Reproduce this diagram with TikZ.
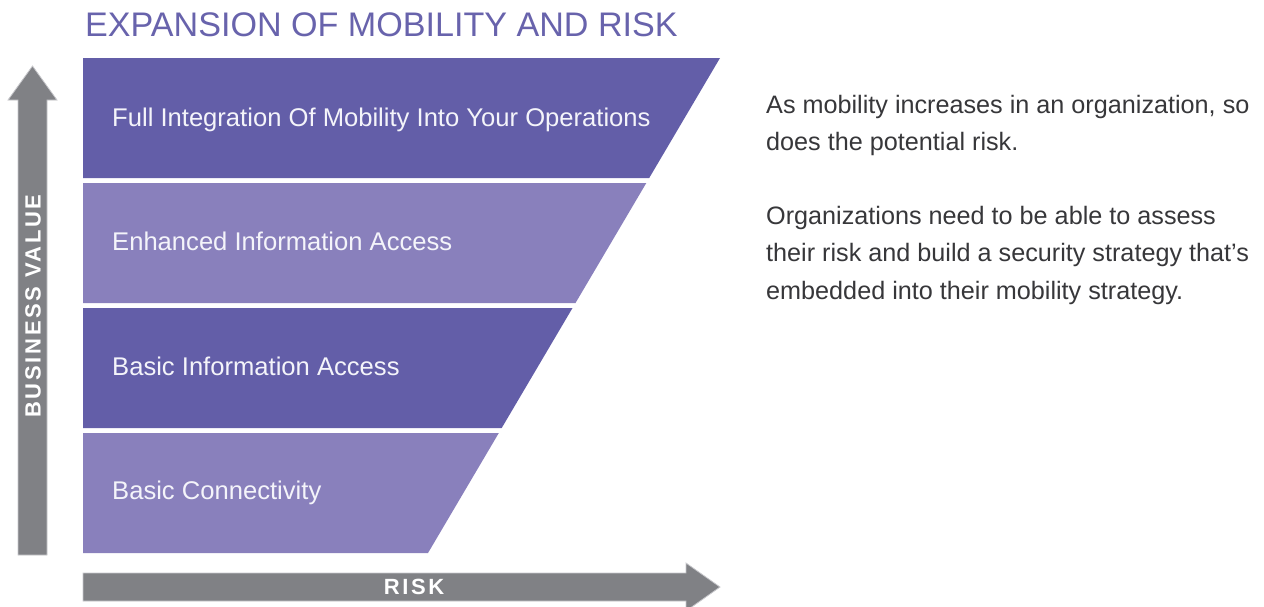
\documentclass[tikz,border=0pt]{standalone}
\usepackage{fontspec}
\setmainfont{Liberation Sans}
\newfontfamily\trackbold[LetterSpace=12]{Liberation Sans Bold}
\definecolor{bandDark}{RGB}{99,94,168}
\definecolor{bandLight}{RGB}{137,128,188}
\definecolor{titleCol}{RGB}{104,99,172}
\definecolor{arrowGray}{RGB}{128,129,133}
\definecolor{arrowEdge}{RGB}{200,200,204}
\definecolor{bodyText}{RGB}{55,55,58}
\definecolor{bandText}{RGB}{244,244,250}
\tikzset{
  darkband/.style={fill=bandDark},
  lightband/.style={fill=bandLight},
  grayarrow/.style={fill=arrowGray, draw=arrowEdge, line width=0.8pt},
  bandlabel/.style={anchor=base west, inner sep=0pt, text=bandText, font=\fontsize{25.6}{30}\selectfont},
  axislabel/.style={anchor=center, inner sep=0pt, text=white, font=\fontsize{22}{26}\trackbold},
  bodypara/.style={anchor=north west, inner sep=0pt, align=left, text=bodyText, font=\fontsize{25.2}{37.5}\selectfont},
}
\begin{document}
\begin{tikzpicture}[x=1pt,y=-1pt]
\clip (0,0) rectangle (1264,606);
\fill[white] (0,0) rectangle (1264,606);
% title
\node[anchor=base west, inner sep=0pt, text=titleCol, font=\fontsize{34.1}{40}\selectfont] (title) at (85,36) {EXPANSION OF MOBILITY AND RISK};
% bands
\path[darkband]  (83,58)  -- (720,58)    -- (649.2,178) -- (83,178) -- cycle;
\path[lightband] (83,183) -- (646.3,183) -- (575.5,303) -- (83,303) -- cycle;
\path[darkband]  (83,308) -- (572.5,308) -- (501.7,428) -- (83,428) -- cycle;
\path[lightband] (83,433) -- (498.8,433) -- (428,553)   -- (83,553) -- cycle;
\node[bandlabel] (b1) at (112,126) {Full Integration Of Mobility Into Your Operations};
\node[bandlabel] (b2) at (112,250) {Enhanced Information Access};
\node[bandlabel] (b3) at (112,375) {Basic Information Access};
\node[bandlabel] (b4) at (112,499) {Basic Connectivity};
% vertical arrow
\path[grayarrow] (18,555) -- (18,100) -- (8,100) -- (32.5,66) -- (57,100) -- (47,100) -- (47,555) -- cycle;
\node[axislabel, rotate=90] (bv) at (33,306) {BUSINESS VALUE};
% horizontal arrow
\path[grayarrow] (83,573) -- (686,573) -- (686,563) -- (720,587) -- (686,611) -- (686,601) -- (83,601) -- cycle;
\node[axislabel] (risk) at (414,587) {RISK};
% right text
\node[bodypara] (p1) at (766,95) {As mobility increases in an organization, so\\does the potential risk.};
\node[bodypara] (p2) at (766,206) {Organizations need to be able to assess\\their risk and build a security strategy that’s\\embedded into their mobility strategy.};
\end{tikzpicture}
\end{document}
